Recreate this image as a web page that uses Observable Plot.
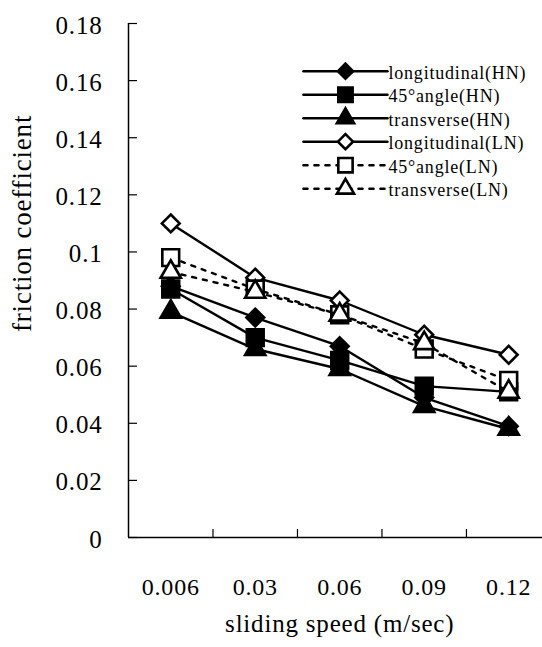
<!DOCTYPE html>
<html><head><meta charset="utf-8">
<script src="https://cdn.jsdelivr.net/npm/d3@7"></script>
<script src="https://cdn.jsdelivr.net/npm/@observablehq/plot@0.6"></script>
<style>
body{margin:0;background:#fff;overflow:hidden}
</style>
</head><body><div id="chart"></div>
<script>
const speeds = ["0.006", "0.03", "0.06", "0.09", "0.12"];
const seriesNames = ["longitudinal(HN)", "45°angle(HN)", "transverse(HN)", "longitudinal(LN)", "45°angle(LN)", "transverse(LN)"];
const longHN  = [0.088, 0.077, 0.067, 0.049, 0.039];
const angleHN = [0.087, 0.070, 0.062, 0.053, 0.051];
const transHN = [0.079, 0.066, 0.059, 0.046, 0.038];
const longLN  = [0.110, 0.091, 0.083, 0.071, 0.064];
const angleLN = [0.098, 0.087, 0.078, 0.066, 0.055];
const transLN = [0.093, 0.086, 0.078, 0.068, 0.051];
const yTicks = [0, 0.02, 0.04, 0.06, 0.08, 0.1, 0.12, 0.14, 0.16, 0.18];
const yTickLabels = ["0", "0.02", "0.04", "0.06", "0.08", "0.1", "0.12", "0.14", "0.16", "0.18"];
const xLabel = "sliding speed (m/sec)";
const yLabel = "friction coefficient";

const seriesValues = [longHN, angleHN, transHN, longLN, angleLN, transLN];
const styles = [
  {symbol: "diamond2", fill: "black", dash: null, r: 8},
  {symbol: "square", fill: "black", dash: null, r: 9.5},
  {symbol: "triangle", fill: "black", dash: null, r: 7.5},
  {symbol: "diamond2", fill: "white", dash: null, r: 8},
  {symbol: "square", fill: "white", dash: "4,7", r: 9.5},
  {symbol: "triangle", fill: "white", dash: "4,7", r: 7.5}
];

const W = 542, H = 647, ML = 128, MR = 0, MT = 23, MB = 110;
const frameW = W - ML - MR, frameH = H - MT - MB;
const xMin = -0.5, xMax = 4.4;
const boundaries = speeds.slice(1).map((d, i) => i + 0.5);

// legend layout (in data units)
const legX1 = 1.571, legX2 = 2.565, legXm = 2.068;
const legTop = 0.1633, legStep = 0.00823;

const marks = [
  Plot.ruleX([xMin], {x: d => d, stroke: "black", strokeWidth: 1.5}),
  Plot.ruleY([0], {y: d => d, stroke: "black", strokeWidth: 1.5}),
  Plot.ruleY(yTicks, {y: d => d, insetRight: frameW - 9, stroke: "black", strokeWidth: 1.2}),
  Plot.ruleX(boundaries, {x: d => d, insetTop: frameH - 8, stroke: "black", strokeWidth: 1.2}),
  Plot.text(yTicks, {x: () => xMin, y: d => d, text: (d, i) => yTickLabels[i], dx: -26, dy: 2, textAnchor: "end", fontSize: 25, fill: "black"}),
  Plot.text(speeds, {x: (d, i) => i, y: () => 0, text: d => d, dy: 50, fontSize: 24, fill: "black"}),
  Plot.text([xLabel], {x: () => 2, y: () => 0, text: d => d, dy: 86, fontSize: 25, fill: "black"}),
  Plot.text([yLabel], {x: () => xMin, y: () => 0.11, text: d => d, dx: -106, rotate: -90, fontSize: 27, fill: "black"})
];

seriesValues.forEach((vals, s) => {
  const st = styles[s];
  marks.push(Plot.line(vals, {x: (d, j) => j, y: d => d, stroke: "black", strokeWidth: 2.4, strokeDasharray: st.dash}));
  marks.push(Plot.dot(vals, {x: (d, j) => j, y: d => d, symbol: st.symbol, fill: st.fill, stroke: "black", strokeWidth: 2.6, r: st.r}));
});

// legend
seriesNames.forEach((name, s) => {
  const st = styles[s];
  const ly = legTop - s * legStep;
  marks.push(Plot.line([[legX1, ly], [legX2, ly]], {x: d => d[0], y: d => d[1], stroke: "black", strokeWidth: 2.6, strokeDasharray: st.dash}));
  marks.push(Plot.dot([[legXm, ly]], {x: d => d[0], y: d => d[1], symbol: st.symbol, fill: st.fill, stroke: "black", strokeWidth: 2.6, r: st.r * 0.85}));
  marks.push(Plot.text([name], {x: () => legX2, y: () => ly, text: d => d, dx: 1, dy: 2, textAnchor: "start", fontSize: 18, fill: "black", style: ""}));
});

const chart = Plot.plot({
  width: W, height: H,
  marginLeft: ML, marginRight: MR, marginTop: MT, marginBottom: MB,
  x: {type: "linear", domain: [xMin, xMax], axis: null},
  y: {type: "linear", domain: [0, 0.18], axis: null},
  style: {background: "white", color: "black", overflow: "visible", fontFamily: "'Liberation Serif', serif", letterSpacing: "0.8px"},
  marks
});
document.getElementById("chart").appendChild(chart);
</script>
</body></html>
